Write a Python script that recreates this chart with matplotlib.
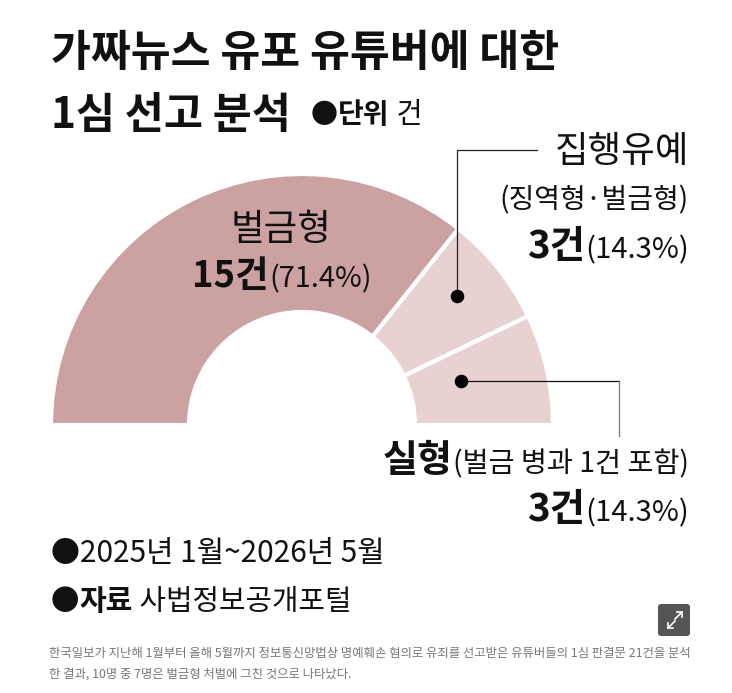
import matplotlib
matplotlib.use('Agg')
import matplotlib.pyplot as plt
from matplotlib.patches import FancyBboxPatch
import numpy as np

plt.rcParams['font.family'] = ['Noto Sans CJK KR', 'DejaVu Sans']

W, H = 732, 693
INK = '#111111'

# data
categories = ['벌금형', '집행유예', '실형']
counts = [15, 3, 3]
shares = ['(71.4%)', '(14.3%)', '(14.3%)']
colors = ['#cca1a2', '#e8d1d1', '#e8d1d1']

fig = plt.figure(figsize=(W / 100, H / 100), dpi=100)
ax = fig.add_axes([0, 0, 1, 1])

# half donut: the counts fill half of the circle
fractions = np.array(counts) / (2 * sum(counts))
ax.pie(fractions, normalize=False, startangle=180, counterclock=False,
       colors=colors, center=(302, H - 425), radius=251,
       wedgeprops=dict(width=138, edgecolor='white', linewidth=3))
ax.set_xlim(0, W)
ax.set_ylim(0, H)
ax.set_aspect('auto')
ax.axis('off')

renderer = fig.canvas.get_renderer()


def px(size):
    # pixel size to points
    return size * 0.72


def run(x, y, parts, align='left', color=INK):
    # parts: (text, weight, pixel size), placed side by side on one baseline
    items = [ax.text(0, H - y, t, fontsize=px(s), fontweight=w, color=color, va='baseline', ha='left')
             for t, w, s in parts]
    widths = [i.get_window_extent(renderer).width for i in items]
    if align == 'right':
        x = x - sum(widths)
    elif align == 'center':
        x = x - sum(widths) / 2
    for item, wd in zip(items, widths):
        item.set_x(x)
        x += wd


# title
run(51, 66, [('가짜뉴스 유포 유튜버에 대한', 'bold', 43.4)])
run(51, 128, [('1심 선고 분석', 'bold', 42.5)])
run(311, 123, [('●', 'normal', 27), ('단위', 'bold', 28), (' 건', 'normal', 28.5)])

# labels
run(281, 240, [(categories[0], 'normal', 36.5)], align='center')
run(282, 287, [(str(counts[0]) + '건', 'bold', 36.5), (shares[0], 'normal', 29)], align='center')

run(689, 162, [(categories[1], 'normal', 36.5)], align='right')
run(689, 208, [('(징역형·벌금형)', 'normal', 28)], align='right')
run(689, 258, [(str(counts[1]) + '건', 'bold', 38.5), (shares[1], 'normal', 29.3)], align='right')

run(689, 472, [(categories[2], 'bold', 38), ('(벌금 병과 1건 포함)', 'normal', 28.3)], align='right')
run(689, 521, [(str(counts[2]) + '건', 'bold', 38.5), (shares[2], 'normal', 29.3)], align='right')

# leaders
ax.plot([537, 457, 457], [H - 150, H - 150, H - 296], color='#222222', lw=0.9, solid_joinstyle='miter')
ax.plot([461, 619], [H - 381, H - 381], color='#111111', lw=0.9)
ax.plot([619, 619], [H - 381, H - 436], color='#777777', lw=0.9)
ax.scatter([457, 461], [H - 296, H - 381], s=95, color='black', zorder=5, linewidths=0)

# period and source
run(51, 562, [('●', 'normal', 29), ('2025년 1월~2026년 5월', 'normal', 29.8)])
run(51, 610, [('●', 'normal', 28.5), ('자료', 'bold', 29), (' 사법정보공개포털', 'normal', 28.8)])

# caption
run(49, 657, [('한국일보가 지난해 1월부터 올해 5월까지 정보통신망법상 명예훼손 혐의로 유죄를 선고받은 유튜버들의 1심 판결문 21건을 분석', 'normal', 12.4)], color='#777777')
run(49, 678, [('한 결과, 10명 중 7명은 벌금형 처벌에 그친 것으로 나타났다.', 'normal', 12.4)], color='#777777')

# expand button
ax.add_patch(FancyBboxPatch((660, H - 634), 28, 28, boxstyle='round,pad=2,rounding_size=3',
                            facecolor='#555555', edgecolor='none'))
ax.plot([677, 682, 682], [H - 612, H - 612, H - 617], color='white', lw=1.2)
ax.plot([682, 675], [H - 612, H - 619], color='white', lw=1.2)
ax.plot([668, 668, 673], [H - 623, H - 628, H - 628], color='white', lw=1.2)
ax.plot([668, 675], [H - 628, H - 621], color='white', lw=1.2)

fig.savefig('out.png', dpi=100, facecolor='white')
